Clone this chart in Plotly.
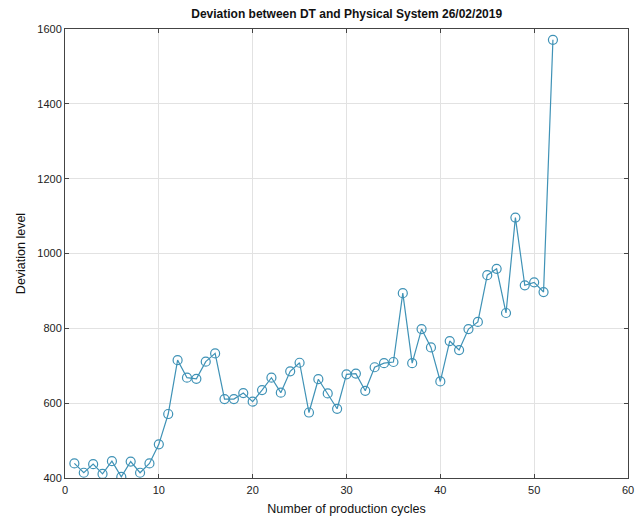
import plotly.graph_objects as go

cycles = list(range(1, 53))
deviation = [439, 414, 437, 411, 445, 403, 444, 414, 439, 490,
             571, 715, 668, 665, 711, 733, 611, 611, 627, 604,
             635, 668, 628, 685, 708, 575, 664, 626, 585, 677,
             679, 633, 696, 707, 710, 894, 707, 798, 749, 658,
             766, 742, 798, 817, 942, 959, 841, 1096, 915, 923,
             897, 1571]

x_ticks = [0, 10, 20, 30, 40, 50, 60]
y_ticks = [400, 600, 800, 1000, 1200, 1400, 1600]

color = "#3f92b6"
fig = go.Figure(go.Scatter(
    x=cycles, y=deviation, mode="lines+markers",
    line=dict(color=color, width=1.2),
    marker=dict(symbol="circle-open", size=9, color=color, line=dict(width=1.2, color=color)),
))

axis_common = dict(
    showline=True, linecolor="#444", linewidth=1, mirror="ticks",
    ticks="inside", ticklen=4, tickcolor="#444",
    showgrid=True, gridcolor="#e2e2e2", gridwidth=1, zeroline=False,
    automargin=False,
    tickfont=dict(family="Arial, Liberation Sans", size=11, color="#222"),
)

fig.update_layout(
    width=642, height=516,
    margin=dict(l=65, r=14, t=29, b=38),
    paper_bgcolor="white", plot_bgcolor="white",
    showlegend=False,
    title=dict(text="<b>Deviation between DT and Physical System 26/02/2019</b>",
               x=0.54, xanchor="center", y=0.973, yanchor="middle",
               font=dict(family="Arial, Liberation Sans", size=12, color="#111")),
    xaxis=dict(range=[0, 60], tickvals=x_ticks, ticklabelstandoff=2,
               title=dict(text="Number of production cycles", standoff=9,
                          font=dict(family="Arial, Liberation Sans", size=12.5, color="#111")),
               **axis_common),
    yaxis=dict(range=[400, 1600], tickvals=y_ticks,
               title=dict(text="Deviation level", standoff=8,
                          font=dict(family="Arial, Liberation Sans", size=12.5, color="#111")),
               **axis_common),
)

fig.write_html("out.html", config={"displayModeBar": False},
               post_script="document.body.style.margin='0';")
